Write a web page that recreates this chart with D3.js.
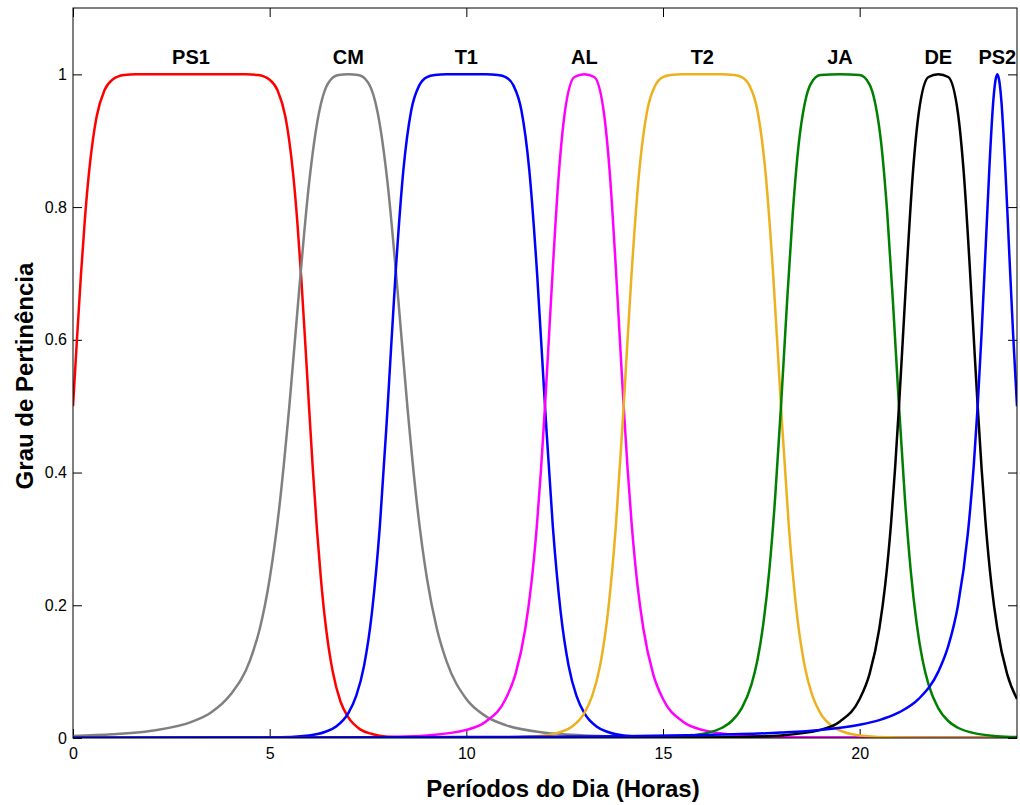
<!DOCTYPE html>
<html>
<head>
<meta charset="utf-8">
<script src="https://cdn.jsdelivr.net/npm/d3@7"></script>
<style>
  body { margin: 0; background: #fff; }
  svg { display: block; font-family: "Liberation Sans", Arial, sans-serif; }
</style>
</head>
<body>
<svg id="chart" width="1020" height="805"></svg>
<script>
// values: [hour, membership]
const xTicks = [0, 5, 10, 15, 20];
const yTicks = [0, 0.2, 0.4, 0.6, 0.8, 1];
const names = ['PS1', 'CM', 'T1', 'AL', 'T2', 'JA', 'DE', 'PS2'];
const peaks = [3, 7, 10, 13, 16, 19.5, 22, 23.5];

const ps1 = [[0,.5],[0.1,.6],[0.2,.696],[0.3,.78],[0.4,.848],[0.5,.899],[0.6,.936],[0.8,.976],[1,.992],[1.3,.999],[1.6,1],[3,1],
  [4.4,1],[4.7,.999],[5,.992],[5.2,.976],[5.4,.936],[5.5,.899],[5.6,.848],[5.7,.78],[5.8,.696],[5.9,.6],[6,.5],[6.1,.403],
  [6.2,.316],[6.3,.242],[6.4,.182],[6.5,.136],[6.6,.101],[6.8,.055],[7,.031],[7.3,.013],[7.6,.006],[8,.002],[9,0],[24,0]];
const cm = [[0,.003],[1,.0055],[2,.011],[3,.024],[3.5,.038],[4,.065],[4.5,.117],[4.75,.165],[5,.24],[5.25,.35],[5.5,.5],
  [5.75,.675],[6,.835],[6.25,.941],[6.5,.988],[6.75,.999],[7,1],[7.25,.999],[7.5,.988],[7.75,.941],[8,.835],[8.25,.675],
  [8.5,.5],[8.75,.35],[9,.24],[9.25,.165],[9.5,.115],[10,.0588],[10.5,.0326],[11,.0194],[12,.008],[13,.0039],[14,.0021],
  [15,.0012],[17,.0005],[19,.0002],[24,.0001]];
const t1 = [[0,0],[4,.0002],[5,.0007],[6,.0039],[6.4,.009],[6.7,.0178],[7,.0376],[7.2,.0634],[7.4,.109],[7.6,.189],[7.8,.318],
  [8,.5],[8.2,.699],[8.4,.856],[8.6,.946],[8.8,.983],[9,.996],[9.2,.999],[9.5,1],[10,1],[10.5,1],[10.8,.999],[11,.996],
  [11.2,.983],[11.4,.946],[11.6,.856],[11.8,.699],[12,.5],[12.2,.318],[12.4,.189],[12.6,.109],[12.8,.0634],[13,.0376],
  [13.3,.0178],[13.6,.009],[14,.0039],[15,.0007],[16,.0002],[24,0]];
const al = [[0,0],[2,.0001],[5,.0002],[7,.0008],[8,.0016],[9,.0039],[10,.0122],[10.5,.025],[11,.0588],[11.25,.0963],[11.5,.165],
  [11.65,.231],[11.8,.325],[11.9,.406],[12,.5],[12.1,.604],[12.2,.709],[12.35,.849],[12.5,.941],[12.75,.996],[13,1],
  [13.25,.996],[13.5,.941],[13.65,.849],[13.8,.709],[13.9,.604],[14,.5],[14.1,.406],[14.2,.325],[14.35,.231],[14.5,.165],
  [14.75,.0963],[15,.0588],[15.5,.025],[16,.0122],[17,.0039],[18,.0016],[19,.0008],[21,.0002],[24,.0001]];
const t2 = [[0,0],[8,0],[10,.0002],[11,.0007],[12,.0039],[12.4,.009],[12.7,.0178],[13,.0376],[13.2,.0634],[13.4,.109],
  [13.6,.189],[13.8,.318],[14,.5],[14.2,.699],[14.4,.856],[14.6,.946],[14.8,.983],[15,.996],[15.2,.999],[15.5,1],[16,1],
  [16.5,1],[16.8,.999],[17,.996],[17.2,.983],[17.4,.946],[17.6,.856],[17.8,.699],[18,.5],[18.2,.318],[18.4,.189],
  [18.6,.109],[18.8,.0634],[19,.0376],[19.3,.0178],[19.6,.009],[20,.0039],[21,.0007],[22,.0002],[24,0]];
const ja = [[0,0],[11.5,0],[13.5,.0002],[14.5,.0007],[15.5,.0028],[16,.0062],[16.5,.0154],[16.75,.0256],[17,.0446],
  [17.25,.0807],[17.4,.117],[17.55,.172],[17.7,.251],[17.85,.361],[18,.5],[18.15,.653],[18.3,.792],[18.45,.895],
  [18.6,.955],[18.75,.985],[19,.999],[19.5,1],[20,.999],[20.25,.985],[20.4,.955],[20.55,.895],[20.7,.792],[20.85,.653],
  [21,.5],[21.15,.361],[21.3,.251],[21.45,.172],[21.6,.117],[21.75,.0807],[22,.0446],[22.25,.0256],[22.5,.0154],
  [23,.0062],[23.5,.0028],[24,.0014]];
const de = [[0,0],[9,0],[11,.0001],[14,.0002],[16,.0008],[17,.0016],[18,.0039],[19,.0122],[19.5,.025],[20,.0588],
  [20.25,.0963],[20.5,.165],[20.65,.231],[20.8,.325],[20.9,.406],[21,.5],[21.1,.604],[21.2,.709],[21.35,.849],[21.5,.941],
  [21.75,.996],[22,1],[22.25,.996],[22.5,.941],[22.65,.849],[22.8,.709],[22.9,.604],[23,.5],[23.1,.406],[23.2,.325],
  [23.35,.231],[23.5,.165],[23.75,.0963],[24,.0588]];
const ps2 = [[0,.0005],[6,.0008],[10,.0014],[12,.0019],[14,.0028],[16,.0044],[18,.0082],[19,.0122],[20,.02],[20.5,.027],
  [21,.0385],[21.5,.0588],[22,.1],[22.25,.138],[22.5,.2],[22.75,.308],[22.9,.41],[23,.5],[23.1,.61],[23.2,.735],
  [23.3,.862],[23.4,.962],[23.45,.99],[23.5,1],[23.55,.99],[23.6,.962],[23.7,.862],[23.8,.735],[23.9,.61],[24,.5]];

const curves = [ps1, cm, t1, al, t2, ja, de, ps2];
const colors = ['#ff0000', '#808080', '#0000ff', '#ff00ff', '#edb120', '#008000', '#000000', '#0000ff'];

const svg = d3.select('#chart');
const plotLeft = 73, plotRight = 1017, plotTop = 8, plotBottom = 738;

const x = d3.scaleLinear().domain([0, 24]).range([plotLeft, plotRight]);
const y = d3.scaleLinear().domain([0, 1.1]).range([plotBottom, plotTop]);

svg.append('rect').attr('width', 1020).attr('height', 805).attr('fill', '#fff');

svg.append('clipPath').attr('id', 'plot-clip')
  .append('rect')
  .attr('x', plotLeft).attr('y', plotTop)
  .attr('width', plotRight - plotLeft).attr('height', plotBottom - plotTop);

// axes, ticks pointing inward on all four sides
const tick = 9;
const styleAxis = g => {
  g.select('.domain').remove();
  g.selectAll('line').attr('stroke', '#000');
  g.selectAll('text').attr('fill', '#000').style('font-size', '16px');
};

svg.append('g').attr('transform', `translate(0,${plotBottom})`)
  .call(d3.axisBottom(x).tickValues(xTicks).tickSize(-tick).tickPadding(10).tickFormat(d3.format('d')))
  .call(styleAxis);
svg.append('g').attr('transform', `translate(0,${plotTop})`)
  .call(d3.axisTop(x).tickValues(xTicks).tickSize(-tick).tickFormat(''))
  .call(styleAxis);
svg.append('g').attr('transform', `translate(${plotLeft},0)`)
  .call(d3.axisLeft(y).tickValues(yTicks).tickSize(-tick).tickPadding(6).tickFormat(d => d3.format('~g')(d)))
  .call(styleAxis);
svg.append('g').attr('transform', `translate(${plotRight},0)`)
  .call(d3.axisRight(y).tickValues(yTicks).tickSize(-tick).tickFormat(''))
  .call(styleAxis);

const line = d3.line()
  .x(d => x(d[0]))
  .y(d => y(d[1]))
  .curve(d3.curveMonotoneX);

svg.append('g').attr('clip-path', 'url(#plot-clip)')
  .selectAll('path')
  .data(curves)
  .join('path')
  .attr('d', line)
  .attr('fill', 'none')
  .attr('stroke', (d, i) => colors[i])
  .attr('stroke-width', 2.5)
  .attr('stroke-linejoin', 'round');

// box
svg.append('rect')
  .attr('x', plotLeft).attr('y', plotTop)
  .attr('width', plotRight - plotLeft).attr('height', plotBottom - plotTop)
  .attr('fill', 'none').attr('stroke', '#000').attr('stroke-width', 1);

// curve names above the peaks
svg.append('g')
  .selectAll('text')
  .data(names)
  .join('text')
  .attr('x', (d, i) => x(peaks[i]))
  .attr('y', y(1.016))
  .attr('text-anchor', 'middle')
  .style('font-size', '20px')
  .style('font-weight', 'bold')
  .text(d => d);

svg.append('text')
  .attr('x', 563)
  .attr('y', 797)
  .attr('text-anchor', 'middle')
  .style('font-size', '24px')
  .style('font-weight', 'bold')
  .text('Períodos do Dia (Horas)');

svg.append('text')
  .attr('transform', 'translate(33,376) rotate(-90)')
  .attr('text-anchor', 'middle')
  .style('font-size', '24px')
  .style('font-weight', 'bold')
  .text('Grau de Pertinência');
</script>
</body>
</html>
